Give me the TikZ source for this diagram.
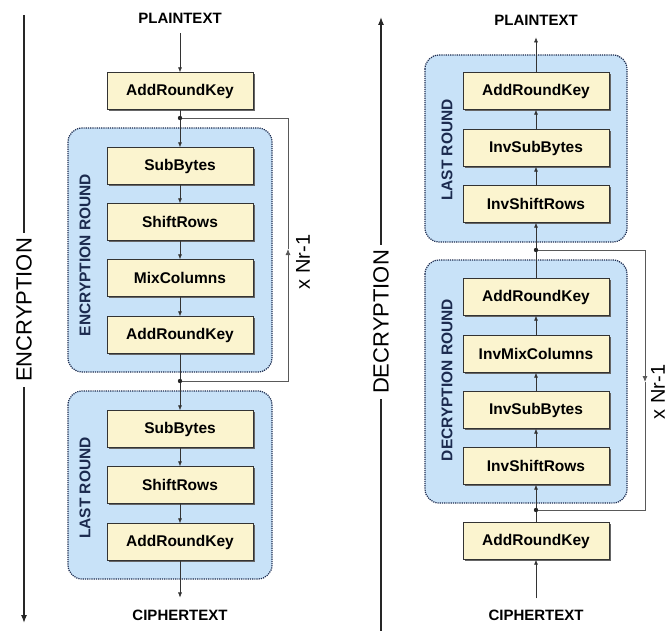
\documentclass[tikz,border=0pt]{standalone}
\usepackage{fontspec}
\setmainfont{Liberation Sans}
\usetikzlibrary{arrows.meta,shadows}
\definecolor{boxyellow}{HTML}{FBF4CF}
\definecolor{roundblue}{HTML}{C8E2F8}
\definecolor{roundedge}{HTML}{1B2A4E}
\begin{document}
\begin{tikzpicture}
[x=1pt,y=-1pt,
  opdecorate/.style={shape=rectangle,draw=black!80,fill=boxyellow,minimum width=146pt,minimum height=37pt,inner sep=0pt,%
    font=\fontsize{15.5}{18}\selectfont\bfseries,drop shadow={shadow xshift=1.6pt,shadow yshift=-1.6pt,fill=black!60,opacity=1}},%
  rounddecorate/.style={draw=roundedge,fill=roundblue,densely dotted,line width=1.2pt,rounded corners=14pt},%
  roundlabel/.style={rotate=90,font=\fontsize{15.5}{18}\selectfont\bfseries,text=roundedge},%
  textdecorate/.style={font=\fontsize{15}{18}\selectfont\bfseries,inner sep=2pt},%
  sidelabel/.style={rotate=90,font=\fontsize{22}{26}\selectfont,inner sep=5pt},%
  countlabel/.style={rotate=90,font=\fontsize{20}{24}\selectfont,inner sep=1pt},%
  sidedecorate/.style={draw=black!85,line width=1.2pt},%
  linedecorate/.style={-{Latex[length=5pt,width=4pt]},draw=black!80,line width=0.6pt},%
  loopdecorate/.style={draw=black!65,line width=0.8pt}]
\useasboundingbox (0,0) rectangle (669,631);
%% round frames
\foreach \lx/\ty/\rx/\by in {68/128/272/372, 68/391/272/579, 425/55/627/242, 425/260/627/503} {
  \draw[rounddecorate] (\lx,\ty) rectangle (\rx,\by);
}
%% round titles
\foreach \nodename/\x/\y/\txt in {encround/85/255/ENCRYPTION ROUND, enclast/85/488/LAST ROUND,
    declast/447/150/LAST ROUND, decround/447/380/DECRYPTION ROUND} {
  \node (\nodename) at (\x,\y) [roundlabel] {\txt};
}
%% steps
\foreach \nodename/\x/\y/\txt in {ark0/180/91/AddRoundKey, sub1/180/166/SubBytes, shr1/180/222/ShiftRows,
    mix1/180/278/MixColumns, ark1/180/335/AddRoundKey, sub2/180/429/SubBytes, shr2/180/485/ShiftRows,
    ark2/180/542/AddRoundKey, ark3/536/91/AddRoundKey, isb3/536/148/InvSubBytes, isr3/536/204/InvShiftRows,
    ark4/536/297/AddRoundKey, imc4/536/354/InvMixColumns, isb4/536/410/InvSubBytes, isr4/536/466/InvShiftRows,
    ark5/536/541/AddRoundKey} {
  \node (\nodename) at (\x,\y) [opdecorate] {\txt};
}
%% inputs and outputs
\node (ptE) at (180,18) [textdecorate] {PLAINTEXT};
\node (ctE) at (180,615) [textdecorate] {CIPHERTEXT};
\node (ptD) at (536,20) [textdecorate] {PLAINTEXT};
\node (ctD) at (536,615) [textdecorate] {CIPHERTEXT};
%% step edges
\path
\foreach \startnode/\endnode in {ark0/sub1, sub1/shr1, shr1/mix1, mix1/ark1, ark1/sub2, sub2/shr2, shr2/ark2,
    ark5/isr4, isr4/isb4, isb4/imc4, imc4/ark4, ark4/isr3, isr3/isb3, isb3/ark3} {
  (\startnode) edge[linedecorate] (\endnode)
};
\draw[linedecorate,shorten <=8pt] (ptE) -- (ark0);
\draw[linedecorate,shorten >=10pt] (ark2) -- (ctE);
\draw[linedecorate,shorten <=9pt] (ctD) -- (ark5);
\draw[linedecorate,shorten >=10pt] (ark3) -- (ptD);
%% repeat loops
\coordinate (dotE1) at (180,118);
\coordinate (dotE2) at (180,381);
\coordinate (dotD1) at (536,250);
\coordinate (dotD2) at (536,510);
\coordinate (loopE) at (288,249);
\coordinate (loopD) at (645,382);
\draw[loopdecorate,-{Latex[length=6pt,width=5pt]}] (dotE2) -| (loopE);
\draw[loopdecorate] (loopE) |- (dotE1);
\draw[loopdecorate,-{Latex[length=6pt,width=5pt]}] (dotD1) -| (loopD);
\draw[loopdecorate] (loopD) |- (dotD2);
\foreach \dotname in {dotE1, dotE2, dotD1, dotD2} {
  \fill[black!85] (\dotname) circle (2.2pt);
}
\node (countE) at (303,262) [countlabel] {x Nr-1};
\node (countD) at (658,392) [countlabel] {x Nr-1};
%% direction arrows
\node (enclabel) at (24,310) [sidelabel] {ENCRYPTION};
\node (declabel) at (381,322) [sidelabel] {DECRYPTION};
\coordinate (encstart) at (24,15);
\coordinate (encend) at (24,623);
\coordinate (decstart) at (381,631);
\coordinate (decend) at (381,17);
\draw[sidedecorate] (encstart) -- (enclabel.east);
\draw[sidedecorate,-{Latex[length=8pt,width=6pt]}] (enclabel.west) -- (encend);
\draw[sidedecorate] (decstart) -- (declabel.west);
\draw[sidedecorate,-{Latex[length=8pt,width=6pt]}] (declabel.east) -- (decend);
\end{tikzpicture}
\end{document}
